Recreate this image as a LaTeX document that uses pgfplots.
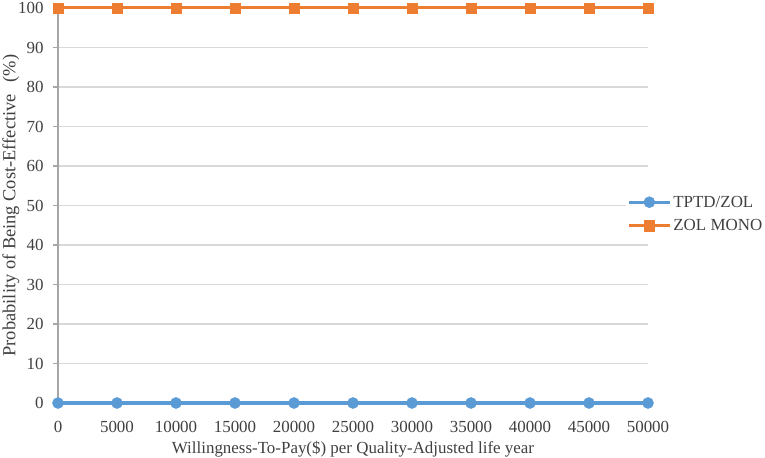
\documentclass[border=0pt]{standalone}
\usepackage{fontspec}
\setmainfont{Liberation Serif}
\usepackage{pgfplots}
\pgfplotsset{compat=1.18}
\definecolor{cblue}{HTML}{5B9BD5}
\definecolor{corange}{HTML}{ED7D31}
\definecolor{cgrid}{HTML}{D9D9D9}
\definecolor{caxis}{HTML}{A6A6A6}
\definecolor{ctext}{HTML}{404040}
\begin{document}
\begin{tikzpicture}
\useasboundingbox (-58bp,-55bp) rectangle (707bp,403bp);
\begin{axis}[
  at={(0,0)}, anchor=south west,
  scale only axis, width=590bp, height=395bp,
  xmin=0, xmax=50000, ymin=0, ymax=100,
  xtick={0,5000,...,50000}, ytick={0,10,...,100},
  scaled x ticks=false,
  /pgf/number format/1000 sep={},
  /pgf/number format/assume math mode=true,
  font=\fontsize{17}{20}\selectfont,
  tick label style={text=ctext},
  ymajorgrids, grid style={cgrid, line width=1.2bp},
  axis line style={caxis, line width=1.2bp},
  axis x line*=bottom, axis y line*=left,
  x axis line style={draw=none},
  xtick style={draw=none},
  ytick style={caxis, line width=1.2bp},
  tick align=outside, major tick length=5bp,
  yticklabel style={xshift=-6bp},
  xticklabel style={yshift=-10bp},
  xlabel={Willingness-To-Pay(\$) per Quality-Adjusted life year},
  ylabel={Probability of Being Cost-Effective\hspace{12bp}(\%)},
  label style={text=ctext},
  xlabel style={yshift=-1bp},
  ylabel style={yshift=-8bp, font=\fontsize{18.5}{21}\selectfont},
  clip=false,
  legend style={at={(rel axis cs:0.963,0.535)}, anchor=north west, draw=none, fill=white,
    font=\fontsize{17}{20}\selectfont, text=ctext,
    row sep=7bp, inner xsep=1bp, inner ysep=2bp},
  legend cell align=left,
  legend image code/.code={\draw[mark repeat=2,mark phase=2,#1] plot coordinates {(0bp,0bp) (20.5bp,0bp) (41bp,0bp)};},
]
\addplot[cblue, line width=3bp, mark=*, mark size=5.5bp, mark options={fill=cblue, draw=cblue, line width=0.5bp}] coordinates {
(0,0) (5000,0) (10000,0) (15000,0) (20000,0) (25000,0) (30000,0) (35000,0) (40000,0) (45000,0) (50000,0)};
\addlegendentry{TPTD/ZOL}
\addplot[corange, line width=3bp, mark=square*, mark size=5.2bp, mark options={fill=corange, draw=corange, line width=0.5bp}] coordinates {
(0,100) (5000,100) (10000,100) (15000,100) (20000,100) (25000,100) (30000,100) (35000,100) (40000,100) (45000,100) (50000,100)};
\addlegendentry{ZOL MONO}
\end{axis}
\end{tikzpicture}
\end{document}
